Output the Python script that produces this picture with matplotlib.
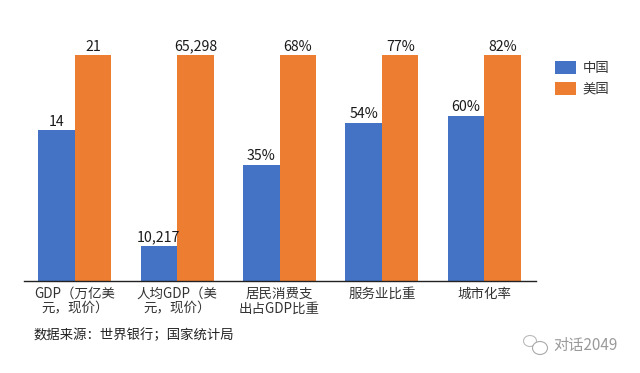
import matplotlib
matplotlib.use("Agg")
import matplotlib.pyplot as plt
from matplotlib.patches import Ellipse
import numpy as np

plt.rcParams['font.family'] = ['Noto Sans CJK SC', 'DejaVu Sans']

categories = ["GDP（万亿美\n元，现价）", "人均GDP（美\n元，现价）", "居民消费支\n出占GDP比重", "服务业比重", "城市化率"]
china = [14, 10217, 35, 54, 60]
usa = [21, 65298, 68, 77, 82]
china_labels = ["14", "10,217", "35%", "54%", "60%"]
usa_labels = ["21", "65,298", "68%", "77%", "82%"]
series_names = ["中国", "美国"]
colors = ["#4472C4", "#ED7D31"]
source = "数据来源：世界银行；国家统计局"
watermark = "对话2049"

W, H = 640, 373
fig = plt.figure(figsize=(W / 100, H / 100), dpi=100, facecolor="white")
ax = fig.add_axes([23.5 / W, 1 - 281 / H, 512 / W, 226 / H])

china_arr = np.array(china, dtype=float)
usa_arr = np.array(usa, dtype=float)
china_share = china_arr / usa_arr
usa_share = usa_arr / usa_arr
x = np.arange(len(categories))
bw = 0.357

b1 = ax.bar(x - bw / 2, china_share, bw, color=colors[0], label=series_names[0])
b2 = ax.bar(x + bw / 2, usa_share, bw, color=colors[1], label=series_names[1])

for xi, h, t in zip(x - bw / 2, china_share, china_labels):
    ax.annotate(t, (xi, h), xytext=(0, 1), textcoords="offset points",
                ha="center", va="bottom", fontsize=10.2, color="#1a1a1a")
for xi, h, t in zip(x + bw / 2, usa_share, usa_labels):
    ax.annotate(t, (xi, h), xytext=(0, 1), textcoords="offset points",
                ha="center", va="bottom", fontsize=10.2, color="#1a1a1a")

ax.set_xlim(-0.5, 4.5)
ax.set_ylim(0, 1)
for s in ("top", "left", "right"):
    ax.spines[s].set_visible(False)
ax.spines["bottom"].set_color("#222222")
ax.spines["bottom"].set_linewidth(1.0)
ax.set_yticks([])
ax.set_xticks(x)
ax.set_xticklabels(categories, fontsize=9.7, color="#333333", linespacing=1.08)
ax.tick_params(axis="x", length=0, pad=4)

ax.patch.set_alpha(0)

fig.legend(handles=[b1, b2], labels=series_names, loc="upper left",
           bbox_to_anchor=(551 / W, 1 - 57 / H), frameon=False, fontsize=9.6,
           labelcolor="#333333", handlelength=1.6, handleheight=1.1,
           handletextpad=0.45, labelspacing=0.5, borderpad=0.3, borderaxespad=0)

fig.text(34 / W, 1 - 335 / H, source, fontsize=9.6, color="#222222", ha="left", va="center")
fig.text(553 / W, 1 - 345 / H, watermark, fontsize=11, color="#9a9a9a", ha="left", va="center")

fig.add_artist(Ellipse((530 / W, 1 - 341 / H), 13 / W, 11 / H, transform=fig.transFigure,
                       fill=False, ec="#bbbbbb", lw=0.8))
fig.add_artist(Ellipse((540 / W, 1 - 348 / H), 15 / W, 13 / H, transform=fig.transFigure,
                       fc="white", ec="#aaaaaa", lw=0.8))

fig.savefig("out.png", dpi=100, facecolor="white")
